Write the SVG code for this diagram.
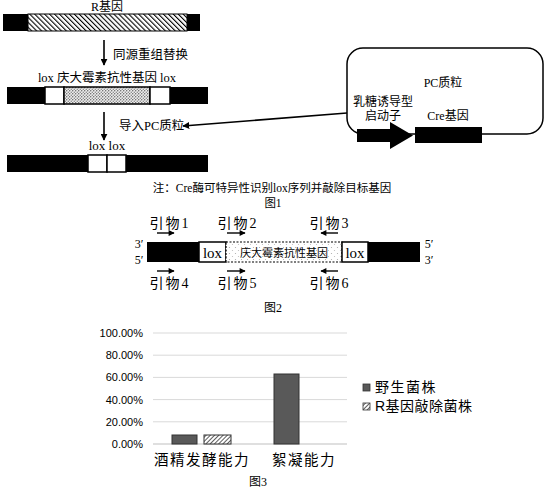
<svg xmlns="http://www.w3.org/2000/svg" width="545" height="490" viewBox="0 0 545 490">
<defs>
<pattern id="hatch" width="3.5" height="3.5" patternUnits="userSpaceOnUse" patternTransform="rotate(-45)">
<rect width="3.5" height="3.5" fill="#fff"/>
<line x1="0" y1="0" x2="0" y2="3.5" stroke="#000" stroke-width="2.2"/>
</pattern>
<pattern id="dots" width="3" height="3" patternUnits="userSpaceOnUse">
<rect width="3" height="3" fill="#eee"/>
<circle cx="0.75" cy="0.75" r="0.7" fill="#555"/>
<circle cx="2.25" cy="2.25" r="0.7" fill="#777"/>
</pattern>
<pattern id="dots2" width="6" height="6" patternUnits="userSpaceOnUse">
<rect width="6" height="6" fill="#fff"/>
<circle cx="1.5" cy="1.5" r="0.6" fill="#aaa"/>
<circle cx="4.5" cy="4.5" r="0.6" fill="#bbb"/>
</pattern>
<pattern id="bhatch" width="3" height="3" patternUnits="userSpaceOnUse" patternTransform="rotate(45)">
<rect width="3" height="3" fill="#fff"/>
<line x1="0" y1="0" x2="0" y2="3" stroke="#333" stroke-width="1.6"/>
</pattern>
<marker id="ah" viewBox="0 0 10 10" refX="9" refY="5" markerWidth="7" markerHeight="7" markerUnits="userSpaceOnUse" orient="auto">
<path d="M0,0 L10,5 L0,10 z" fill="#000"/>
</marker>
<marker id="ahs" viewBox="0 0 10 10" refX="9" refY="5" markerWidth="8" markerHeight="6" markerUnits="userSpaceOnUse" orient="auto">
<path d="M0,0 L10,5 L0,10 z" fill="#000"/>
</marker>
</defs>
<style>
.serif{font-family:"Liberation Serif","Noto Sans CJK SC",serif;fill:#000}
.sans{font-family:"Liberation Sans","Noto Sans CJK SC",sans-serif;fill:#000}
.blk{fill:#000}
.box{fill:#fff;stroke:#000;stroke-width:1.5}
.grid{stroke:#d9d9d9;stroke-width:1}
.conn{stroke:#000;stroke-width:1.6;fill:none}
.prim{stroke:#000;stroke-width:1.4;fill:none}
</style>

<!-- Figure 1 -->
<g id="r-gene">
<rect class="blk" x="3" y="14" width="197" height="17"/>
<rect x="28" y="14" width="159" height="17" fill="url(#hatch)" stroke="#000" stroke-width="1"/>
<text class="serif" x="107" y="11" font-size="12" text-anchor="middle">R基因</text>
</g>
<g id="replaced-gene">
<rect class="blk" x="7" y="87" width="201" height="17"/>
<rect class="box" x="45" y="87" width="19" height="17"/>
<rect x="64" y="87" width="86" height="17" fill="url(#dots)" stroke="#000" stroke-width="1.5"/>
<rect class="box" x="150" y="87" width="20" height="17"/>
<text class="serif" x="107" y="82" font-size="12.5" text-anchor="middle">lox 庆大霉素抗性基因 lox</text>
</g>
<g id="knockout">
<rect class="blk" x="7" y="155" width="201" height="17"/>
<rect class="box" x="88" y="155" width="19" height="17"/>
<rect class="box" x="107" y="155" width="19" height="17"/>
<text class="serif" x="107" y="150" font-size="13" text-anchor="middle">lox lox</text>
</g>
<g id="pc-plasmid">
<rect x="347" y="48" width="196" height="86" rx="16" ry="16" fill="#fff" stroke="#000" stroke-width="1.5"/>
<text class="serif" x="443" y="87" font-size="12" text-anchor="middle">PC质粒</text>
<text class="serif" x="383" y="106" font-size="12" text-anchor="middle">乳糖诱导型</text>
<text class="serif" x="383" y="120" font-size="12" text-anchor="middle">启动子</text>
<text class="serif" x="448" y="120" font-size="12" text-anchor="middle">Cre基因</text>
<polygon class="blk" points="357,129 390,129 390,122 413,135.5 390,149 390,142 357,142"/>
<rect class="blk" x="415" y="127" width="67" height="16"/>
</g>
<g id="connectors">
<line class="conn" x1="104" y1="40" x2="104" y2="65" marker-end="url(#ah)"/>
<line class="conn" x1="104" y1="112" x2="104" y2="140" marker-end="url(#ah)"/>
<line class="conn" x1="347" y1="113" x2="183" y2="126" marker-end="url(#ah)"/>
<line class="prim" x1="157" y1="233" x2="174" y2="233" marker-end="url(#ahs)"/>
<line class="prim" x1="227" y1="233" x2="245" y2="233" marker-end="url(#ahs)"/>
<line class="prim" x1="338" y1="233" x2="321" y2="233" marker-end="url(#ahs)"/>
<line class="prim" x1="157" y1="271" x2="174" y2="271" marker-end="url(#ahs)"/>
<line class="prim" x1="227" y1="271" x2="245" y2="271" marker-end="url(#ahs)"/>
<line class="prim" x1="338" y1="271" x2="321" y2="271" marker-end="url(#ahs)"/>
</g>
<text class="serif" x="113" y="59" font-size="12.5">同源重组替换</text>
<text class="serif" x="119" y="130" font-size="12.5">导入PC质粒</text>
<text class="serif" x="272" y="192" font-size="11.5" text-anchor="middle">注：Cre酶可特异性识别lox序列并敲除目标基因</text>
<text class="serif" x="273" y="207" font-size="11.5" text-anchor="middle">图1</text>

<!-- Figure 2 -->
<g id="fig2-gene">
<rect class="blk" x="147" y="242" width="273" height="20"/>
<rect class="box" x="199" y="242" width="27" height="20"/>
<rect x="226" y="242" width="116" height="20" fill="url(#dots2)" stroke="#000" stroke-width="1.2" stroke-dasharray="2,1.5"/>
<rect class="box" x="342" y="242" width="26" height="20"/>
<text class="serif" x="212.5" y="257.5" font-size="15" text-anchor="middle">lox</text>
<text class="serif" x="355" y="257.5" font-size="15" text-anchor="middle">lox</text>
<text class="serif" x="284" y="256.5" font-size="11" text-anchor="middle">庆大霉素抗性基因</text>
<text class="serif" x="139" y="248" font-size="12" text-anchor="middle">3′</text>
<text class="serif" x="139" y="264" font-size="12" text-anchor="middle">5′</text>
<text class="serif" x="429" y="248" font-size="12" text-anchor="middle">5′</text>
<text class="serif" x="429" y="264" font-size="12" text-anchor="middle">3′</text>
</g>
<g id="primers">
<text class="serif" x="170" y="228" font-size="14" text-anchor="middle" letter-spacing="2">引物1</text>
<text class="serif" x="238" y="228" font-size="14" text-anchor="middle" letter-spacing="2">引物2</text>
<text class="serif" x="330" y="228" font-size="14" text-anchor="middle" letter-spacing="2">引物3</text>
<text class="serif" x="170" y="288" font-size="14" text-anchor="middle" letter-spacing="2">引物4</text>
<text class="serif" x="238" y="288" font-size="14" text-anchor="middle" letter-spacing="2">引物5</text>
<text class="serif" x="330" y="288" font-size="14" text-anchor="middle" letter-spacing="2">引物6</text>
</g>
<text class="serif" x="273" y="312" font-size="12" text-anchor="middle">图2</text>

<!-- Figure 3 chart -->
<g id="chart">
<line class="grid" x1="153" y1="333" x2="347" y2="333"/>
<line class="grid" x1="153" y1="355.2" x2="347" y2="355.2"/>
<line class="grid" x1="153" y1="377.4" x2="347" y2="377.4"/>
<line class="grid" x1="153" y1="399.6" x2="347" y2="399.6"/>
<line class="grid" x1="153" y1="421.8" x2="347" y2="421.8"/>
<line x1="153" y1="444" x2="347" y2="444" stroke="#bfbfbf" stroke-width="1"/>
<g class="sans" font-size="11" text-anchor="end" fill="#222">
<text x="143" y="337">100.00%</text>
<text x="143" y="359">80.00%</text>
<text x="143" y="381">60.00%</text>
<text x="143" y="404">40.00%</text>
<text x="143" y="426">20.00%</text>
<text x="143" y="448">0.00%</text>
</g>
<rect x="172" y="435" width="25" height="9" fill="#595959" stroke="#333" stroke-width="1"/>
<rect x="204" y="435" width="27" height="9" fill="url(#bhatch)" stroke="#333" stroke-width="1"/>
<rect x="274" y="374" width="25" height="70" fill="#595959" stroke="#333" stroke-width="1"/>
<text class="sans" x="202" y="465" font-size="14.5" text-anchor="middle" letter-spacing="1.5">酒精发酵能力</text>
<text class="sans" x="304" y="465" font-size="14.5" text-anchor="middle" letter-spacing="1.5">絮凝能力</text>
</g>
<g id="legend">
<rect x="363" y="384" width="7" height="7" fill="#595959" stroke="#333" stroke-width="0.8"/>
<text class="sans" x="375" y="392" font-size="14" letter-spacing="1.5">野生菌株</text>
<rect x="363" y="403" width="7" height="7" fill="url(#bhatch)" stroke="#333" stroke-width="0.8"/>
<text class="sans" x="375" y="411" font-size="14" letter-spacing="0.5">R基因敲除菌株</text>
</g>
<text class="serif" x="258" y="486" font-size="12" text-anchor="middle">图3</text>
</svg>
